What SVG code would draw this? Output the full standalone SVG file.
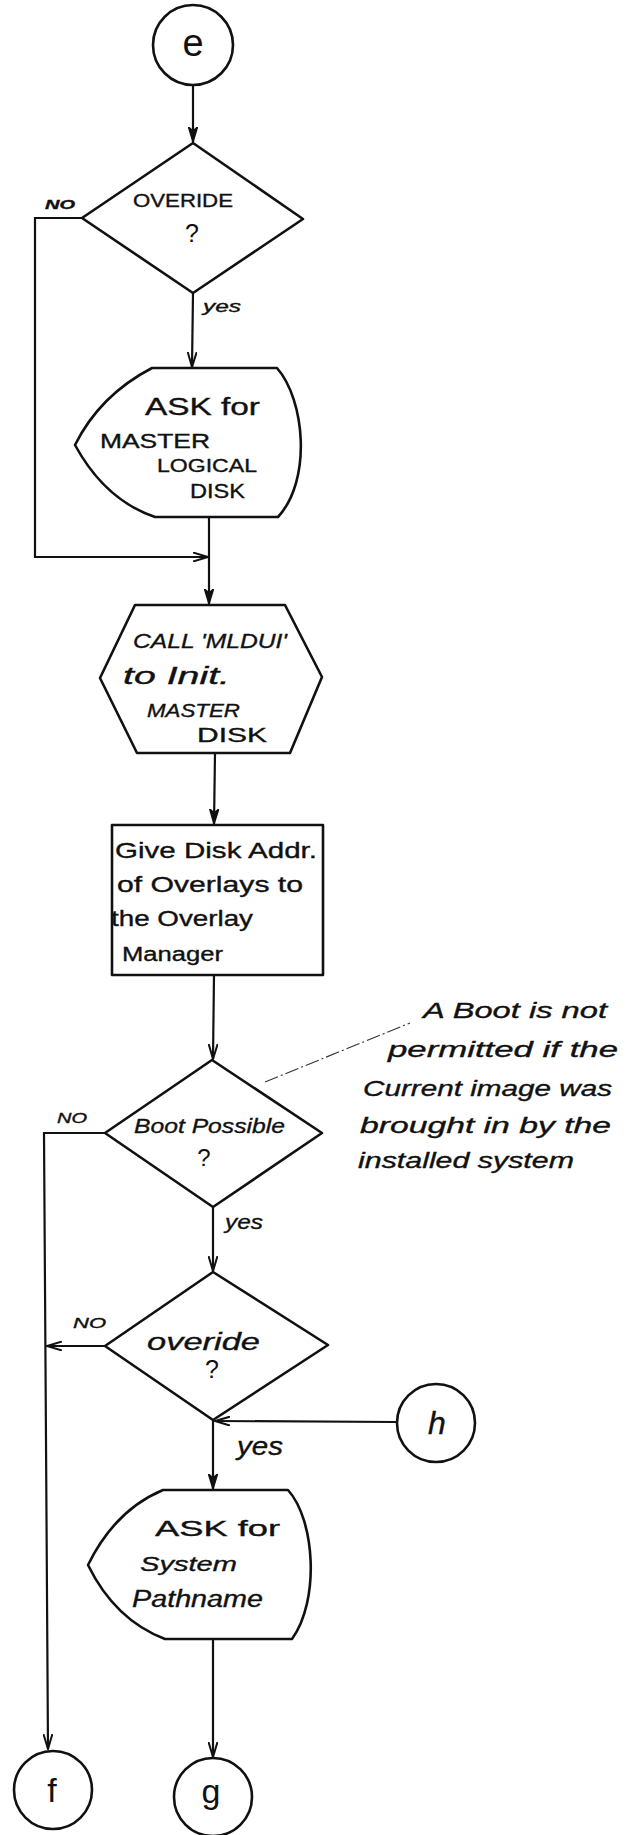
<svg xmlns="http://www.w3.org/2000/svg" width="638" height="1835" viewBox="0 0 638 1835">
  <style>
    .shape { fill: #ffffff; stroke: #111; stroke-width: 2.6; stroke-linejoin: round; }
    .wire { fill: none; stroke: #111; stroke-width: 2.2; }
    .note-line { fill: none; stroke: #333; stroke-width: 1.1; stroke-dasharray: 14 3 2 3; }
    .t { font-family: "Liberation Sans", "DejaVu Sans", sans-serif; fill: #111; stroke: #111; stroke-width: 0.35; }
    .lbl { font-family: "Liberation Sans", "DejaVu Sans", sans-serif; fill: #111; font-style: italic; stroke: #111; stroke-width: 0.35; }
    .conn { font-family: "Liberation Sans", "DejaVu Sans", sans-serif; fill: #111; text-anchor: middle; }
  </style>
  <defs>
    <marker id="open" viewBox="0 0 16 10" refX="15" refY="5" markerWidth="16" markerHeight="10" markerUnits="userSpaceOnUse" orient="auto">
      <path d="M0,0.5 L15,5 L0,9.5" fill="none" stroke="#111" stroke-width="2"/>
    </marker>
    <marker id="solid" viewBox="0 0 16 10" refX="15" refY="5" markerWidth="16" markerHeight="10" markerUnits="userSpaceOnUse" orient="auto">
      <path d="M0,0.5 L15,5 L0,9.5 L4,5 Z" fill="#111" stroke="#111" stroke-width="1.5"/>
    </marker>
  </defs>

  <rect width="638" height="1835" fill="#ffffff"/>

  <!-- connectors -->
  <g id="connectors">
    <path class="wire" d="M193,85 L193,142" marker-end="url(#solid)"/>
    <path class="wire" d="M82,218 L35,218 L35,557 L208,557" marker-end="url(#open)"/>
    <path class="wire" d="M193,293 L192,367" marker-end="url(#open)"/>
    <path class="wire" d="M209,517 L209,604" marker-end="url(#solid)"/>
    <path class="wire" d="M215,753 L214,824" marker-end="url(#solid)"/>
    <path class="wire" d="M214,975 L213,1059" marker-end="url(#open)"/>
    <path class="wire" d="M105,1133 L44,1133 L48,1749" marker-end="url(#open)"/>
    <path class="wire" d="M213,1207 L213,1271" marker-end="url(#open)"/>
    <path class="wire" d="M105,1346 L47,1346" marker-end="url(#open)"/>
    <path class="wire" d="M396,1422 L215,1421" marker-end="url(#open)"/>
    <path class="wire" d="M213,1420 L213,1489" marker-end="url(#solid)"/>
    <path class="wire" d="M213,1639 L213,1757" marker-end="url(#open)"/>
    <path class="note-line" d="M265,1082 L410,1023"/>
    <text class="lbl" x="45" y="209" font-size="12" font-weight="bold" textLength="30" lengthAdjust="spacingAndGlyphs">NO</text>
    <text class="lbl" x="203" y="312" font-size="16" textLength="38" lengthAdjust="spacingAndGlyphs">yes</text>
    <text class="lbl" x="57" y="1123" font-size="14" textLength="30" lengthAdjust="spacingAndGlyphs">NO</text>
    <text class="lbl" x="225" y="1229" font-size="21" textLength="38" lengthAdjust="spacingAndGlyphs">yes</text>
    <text class="lbl" x="73" y="1328" font-size="14" textLength="33" lengthAdjust="spacingAndGlyphs">NO</text>
    <text class="lbl" x="237" y="1455" font-size="25" textLength="46" lengthAdjust="spacingAndGlyphs">yes</text>
  </g>

  <!-- connector e -->
  <g id="node-e">
    <circle class="shape" cx="193" cy="45" r="40"/>
    <text class="conn" x="193" y="56" font-size="38">e</text>
  </g>

  <!-- decision: OVERIDE ? -->
  <g id="node-overide-1">
    <polygon class="shape" points="193,143 303,219 193,293 82,218"/>
    <text class="t" x="133" y="207" font-size="18" textLength="100" lengthAdjust="spacingAndGlyphs">OVERIDE</text>
    <text class="conn" x="192" y="242" font-size="25">?</text>
  </g>

  <!-- display: ask for master logical disk -->
  <g id="node-ask-master">
    <path class="shape" d="M152,368 L277,368 C305,400 312,480 278,517 L155,517 Q105,500 75,445 Q100,395 152,368 Z"/>
    <text class="t" x="145" y="415" font-size="23" textLength="115" lengthAdjust="spacingAndGlyphs">ASK for</text>
    <text class="t" x="100" y="448" font-size="20" textLength="110" lengthAdjust="spacingAndGlyphs">MASTER</text>
    <text class="t" x="157" y="472" font-size="19" textLength="100" lengthAdjust="spacingAndGlyphs">LOGICAL</text>
    <text class="t" x="190" y="498" font-size="20" textLength="55" lengthAdjust="spacingAndGlyphs">DISK</text>
  </g>

  <!-- preparation: call MLDUI -->
  <g id="node-call-mldui">
    <polygon class="shape" points="135,605 285,605 322,677 290,753 137,753 100,678"/>
    <text class="lbl" x="133" y="648" font-size="21" textLength="154" lengthAdjust="spacingAndGlyphs">CALL 'MLDUI'</text>
    <text class="lbl" x="123" y="684" font-size="23" textLength="107" lengthAdjust="spacingAndGlyphs">to Init.</text>
    <text class="lbl" x="147" y="717" font-size="18" textLength="93" lengthAdjust="spacingAndGlyphs">MASTER</text>
    <text class="t" x="197" y="742" font-size="20" textLength="70" lengthAdjust="spacingAndGlyphs">DISK</text>
  </g>

  <!-- process: overlay manager -->
  <g id="node-overlay">
    <rect class="shape" x="112" y="825" width="211" height="150"/>
    <text class="t" x="115" y="858" font-size="22" textLength="202" lengthAdjust="spacingAndGlyphs">Give Disk Addr.</text>
    <text class="t" x="117" y="892" font-size="22" textLength="186" lengthAdjust="spacingAndGlyphs">of Overlays to</text>
    <text class="t" x="111" y="926" font-size="22" textLength="142" lengthAdjust="spacingAndGlyphs">the Overlay</text>
    <text class="t" x="122" y="961" font-size="20" textLength="101" lengthAdjust="spacingAndGlyphs">Manager</text>
  </g>

  <!-- decision: boot possible -->
  <g id="node-boot">
    <polygon class="shape" points="212,1060 322,1133 213,1207 105,1133"/>
    <text class="lbl" x="134" y="1133" font-size="21" textLength="151" lengthAdjust="spacingAndGlyphs">Boot Possible</text>
    <text class="conn" x="204" y="1166" font-size="24">?</text>
  </g>

  <!-- annotation -->
  <g id="note-boot">
    <text class="lbl" x="423" y="1018" font-size="22" textLength="184" lengthAdjust="spacingAndGlyphs">A Boot is not</text>
    <text class="lbl" x="388" y="1057" font-size="22" textLength="230" lengthAdjust="spacingAndGlyphs">permitted if the</text>
    <text class="lbl" x="363" y="1096" font-size="22" textLength="249" lengthAdjust="spacingAndGlyphs">Current image was</text>
    <text class="lbl" x="360" y="1133" font-size="22" textLength="251" lengthAdjust="spacingAndGlyphs">brought in by the</text>
    <text class="lbl" x="358" y="1168" font-size="22" textLength="216" lengthAdjust="spacingAndGlyphs">installed system</text>
  </g>

  <!-- decision: overide ? -->
  <g id="node-overide-2">
    <polygon class="shape" points="213,1272 328,1345 213,1420 105,1346"/>
    <text class="lbl" x="147" y="1350" font-size="24" textLength="113" lengthAdjust="spacingAndGlyphs">overide</text>
    <text class="conn" x="212" y="1378" font-size="25">?</text>
  </g>

  <!-- connector h -->
  <g id="node-h">
    <circle class="shape" cx="436" cy="1423" r="39"/>
    <text class="lbl" x="428" y="1434" font-size="32">h</text>
  </g>

  <!-- display: ask for system pathname -->
  <g id="node-ask-system">
    <path class="shape" d="M163,1490 L288,1490 C315,1520 320,1600 292,1639 L165,1639 Q115,1620 88,1565 Q115,1510 163,1490 Z"/>
    <text class="t" x="155" y="1536" font-size="22" textLength="125" lengthAdjust="spacingAndGlyphs">ASK for</text>
    <text class="lbl" x="140" y="1571" font-size="21" textLength="97" lengthAdjust="spacingAndGlyphs">System</text>
    <text class="lbl" x="132" y="1607" font-size="23" textLength="131" lengthAdjust="spacingAndGlyphs">Pathname</text>
  </g>

  <!-- connector f -->
  <g id="node-f">
    <circle class="shape" cx="53" cy="1790" r="39"/>
    <text class="conn" x="52" y="1802" font-size="34">f</text>
  </g>

  <!-- connector g -->
  <g id="node-g">
    <circle class="shape" cx="213" cy="1797" r="39"/>
    <text class="conn" x="211" y="1803" font-size="34">g</text>
  </g>
</svg>
